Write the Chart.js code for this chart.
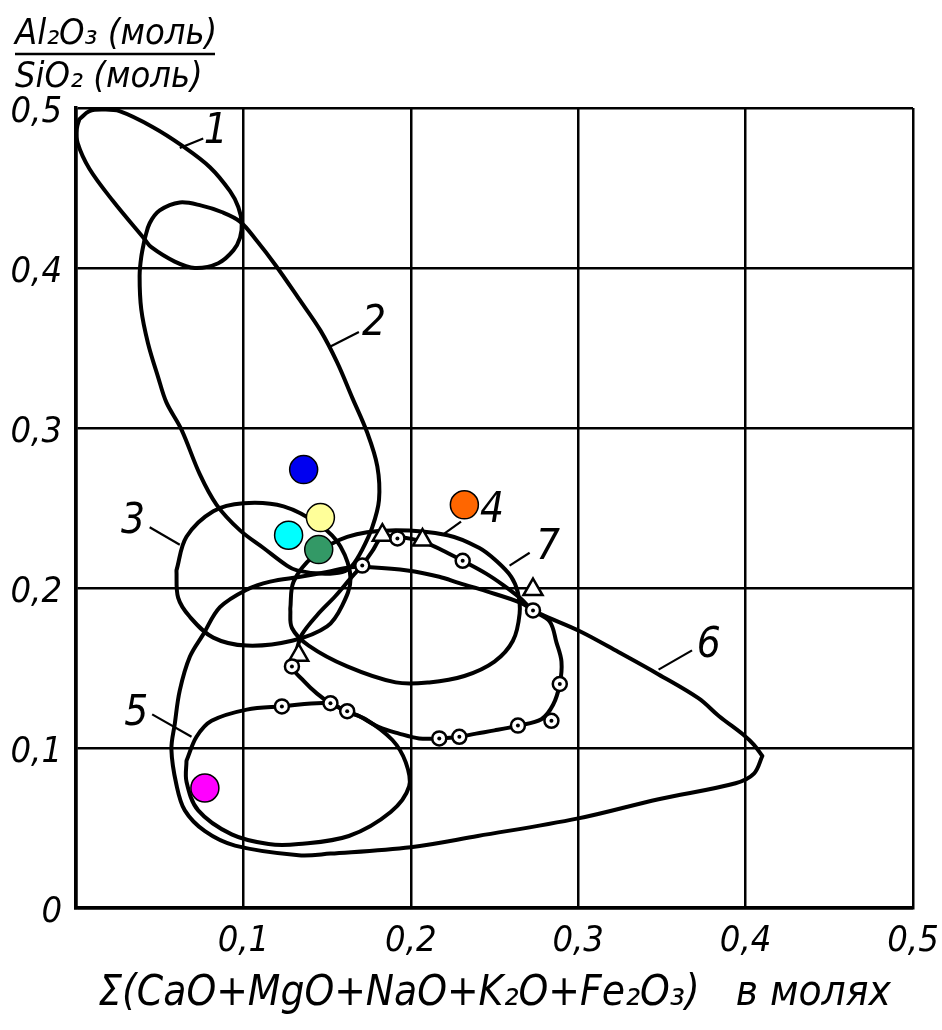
<!DOCTYPE html>
<html>
<head>
<meta charset="utf-8">
<script src="https://cdn.jsdelivr.net/npm/chart.js@4.4.1/dist/chart.umd.min.js"></script>
<style>
  html, body { margin: 0; padding: 0; background: #ffffff; }
  #wrap { position: relative; width: 942px; height: 1030px; }
</style>
</head>
<body>
<div id="wrap"><canvas id="c" width="942" height="1030"></canvas></div>
<script>
// ---------------- DATA ----------------
const xTicks = [0, 0.1, 0.2, 0.3, 0.4, 0.5];
const yTicks = [0, 0.1, 0.2, 0.3, 0.4, 0.5];

const xTitle = 'Σ(CaO+MgO+NaO+K₂O+Fe₂O₃)   в молях';
const yTitleTop = 'Al₂O₃ (моль)';
const yTitleBottom = 'SiO₂ (моль)';

// closed field contours [x, y]
const curve1 = [[0.002,0.493],[0.008,0.498],[0.016,0.499],[0.026,0.498],[0.046,0.488],[0.064,0.476],[0.080,0.463],[0.092,0.448],[0.097,0.438],[0.099,0.428],[0.098,0.419],[0.094,0.411],[0.085,0.403],[0.071,0.400],[0.059,0.404],[0.045,0.413],[0.041,0.418],[0.022,0.442],[0.008,0.462],[0.001,0.478],[0.0005,0.487],[0.002,0.493]];
const curve2 = [[0.041,0.418],[0.044,0.428],[0.050,0.436],[0.062,0.441],[0.075,0.439],[0.087,0.435],[0.098,0.429],[0.108,0.417],[0.119,0.402],[0.133,0.381],[0.146,0.361],[0.156,0.341],[0.165,0.319],[0.174,0.297],[0.180,0.276],[0.181,0.255],[0.177,0.238],[0.171,0.224],[0.165,0.214],[0.159,0.210],[0.146,0.209],[0.132,0.211],[0.126,0.214],[0.112,0.225],[0.098,0.236],[0.084,0.252],[0.074,0.271],[0.063,0.299],[0.054,0.316],[0.049,0.332],[0.043,0.353],[0.039,0.374],[0.038,0.395],[0.039,0.407],[0.041,0.418]];
const curve3 = [[0.060,0.211],[0.066,0.232],[0.082,0.248],[0.100,0.253],[0.124,0.251],[0.146,0.239],[0.158,0.226],[0.164,0.206],[0.159,0.189],[0.150,0.176],[0.129,0.167],[0.102,0.164],[0.082,0.169],[0.068,0.182],[0.061,0.194],[0.060,0.211]];
const curve4 = [[0.128,0.187],[0.130,0.204],[0.142,0.220],[0.162,0.232],[0.188,0.236],[0.222,0.233],[0.241,0.225],[0.251,0.217],[0.260,0.207],[0.264,0.197],[0.265,0.184],[0.261,0.167],[0.250,0.154],[0.232,0.145],[0.211,0.141],[0.191,0.141],[0.162,0.151],[0.139,0.164],[0.129,0.175],[0.128,0.187]];
const curve5 = [[0.066,0.092],[0.066,0.079],[0.073,0.061],[0.093,0.046],[0.115,0.040],[0.133,0.040],[0.163,0.045],[0.188,0.060],[0.199,0.076],[0.197,0.091],[0.189,0.105],[0.173,0.118],[0.161,0.123],[0.151,0.128],[0.123,0.126],[0.102,0.124],[0.081,0.117],[0.072,0.107],[0.066,0.092]];
const curve6 = [[0.410,0.095],[0.405,0.102],[0.399,0.108],[0.384,0.120],[0.372,0.131],[0.348,0.146],[0.324,0.160],[0.301,0.173],[0.277,0.184],[0.265,0.191],[0.245,0.198],[0.229,0.203],[0.217,0.207],[0.198,0.211],[0.176,0.213],[0.164,0.213],[0.150,0.210],[0.134,0.207],[0.116,0.204],[0.102,0.199],[0.086,0.188],[0.076,0.171],[0.068,0.157],[0.062,0.136],[0.059,0.115],[0.057,0.099],[0.060,0.077],[0.065,0.061],[0.077,0.048],[0.095,0.039],[0.133,0.033],[0.152,0.034],[0.200,0.038],[0.240,0.045],[0.300,0.056],[0.348,0.068],[0.394,0.078],[0.405,0.084],[0.410,0.095]];
const curve7 = [[0.171,0.214],[0.177,0.223],[0.183,0.232],[0.192,0.232],[0.207,0.229],[0.220,0.223],[0.231,0.217],[0.245,0.209],[0.255,0.202],[0.265,0.194],[0.273,0.186],[0.283,0.179],[0.287,0.166],[0.290,0.154],[0.289,0.140],[0.285,0.127],[0.278,0.118],[0.264,0.114],[0.250,0.111],[0.239,0.109],[0.229,0.107],[0.217,0.106],[0.205,0.106],[0.193,0.109],[0.181,0.113],[0.169,0.120],[0.162,0.123],[0.152,0.128],[0.144,0.134],[0.136,0.142],[0.129,0.151],[0.132,0.162],[0.135,0.171],[0.144,0.183],[0.155,0.195],[0.164,0.206],[0.171,0.214]];

// analysed points (circle with dot) and triangles
const ringPoints = [[0.171,0.214],[0.192,0.231],[0.231,0.217],[0.273,0.186],[0.289,0.140],[0.284,0.117],[0.264,0.114],[0.229,0.107],[0.217,0.106],[0.162,0.123],[0.152,0.128],[0.123,0.126],[0.129,0.151]];
const trianglePoints = [[0.183,0.233],[0.207,0.230],[0.273,0.199],[0.133,0.158]];

// coloured sample dots
const samplePoints = [[0.136,0.274],[0.146,0.244],[0.127,0.233],[0.145,0.224],[0.232,0.252],[0.077,0.075]];
const sampleColors = ['#0000f0','#ffff99','#00ffff','#339966','#ff6600','#ff00ff'];

// curve number labels and their leader lines
const curveLabelText = ['1','2','3','4','5','6','7'];
const curveLabelPos = [[0.0835,0.485],[0.178,0.365],[0.034,0.241],[0.2485,0.248],[0.036,0.121],[0.378,0.164],[0.282,0.225]];
const leaderLines = [
  [[0.076,0.481],[0.062,0.475]],
  [[0.169,0.360],[0.152,0.351]],
  [[0.044,0.238],[0.062,0.227]],
  [[0.230,0.2415],[0.220,0.234]],
  [[0.0455,0.121],[0.069,0.107]],
  [[0.368,0.161],[0.348,0.149]],
  [[0.271,0.222],[0.259,0.214]]
];

// ---------------- CHART ----------------
const fontFam = "'Liberation Sans Narrow','DejaVu Sans Condensed','Liberation Sans',Arial,sans-serif";
const fmt = v => Math.abs(v) < 1e-9 ? '0' : v.toFixed(1).replace('.', ',');
const pts = a => a.map(p => ({x: p[0], y: p[1]}));

const datasets = [];
datasets.push({ data: pts(samplePoints), showLine: false, pointRadius: 14, pointBackgroundColor: sampleColors,
  pointBorderColor: '#000', pointBorderWidth: 1.5, clip: false });
datasets.push({ data: pts(ringPoints), showLine: false, pointRadius: 2, pointBackgroundColor: '#000',
  pointBorderColor: '#000', pointBorderWidth: 0, clip: false });
datasets.push({ data: pts(ringPoints), showLine: false, pointRadius: 7, pointBackgroundColor: '#fff',
  pointBorderColor: '#000', pointBorderWidth: 2.5, clip: false });
datasets.push({ data: pts(trianglePoints), showLine: false, pointStyle: 'triangle', pointRadius: 11,
  pointBackgroundColor: '#fff', pointBorderColor: '#000', pointBorderWidth: 2.5, clip: false });
leaderLines.forEach(l => datasets.push({ data: pts(l), showLine: true, borderColor: '#000', borderWidth: 2.2,
  pointRadius: 0, tension: 0, clip: false }));
[curve1, curve2, curve3, curve4, curve5, curve6, curve7].forEach(c => datasets.push({
  data: pts(c), showLine: true, borderColor: '#000', borderWidth: 4, pointRadius: 0, tension: 0.35,
  borderJoinStyle: 'round', borderCapStyle: 'round', clip: false }));

const annot = {
  id: 'annot',
  afterDatasetsDraw(chart) {
    const {ctx, scales: {x, y}} = chart;
    ctx.save();
    ctx.fillStyle = '#000';
    ctx.font = 'italic 42px ' + fontFam;
    ctx.textAlign = 'center';
    ctx.textBaseline = 'middle';
    curveLabelText.forEach((t, i) => {
      ctx.fillText(t, x.getPixelForValue(curveLabelPos[i][0]), y.getPixelForValue(curveLabelPos[i][1]));
    });
    // y-axis title as a fraction at the top left
    ctx.textAlign = 'left';
    ctx.textBaseline = 'alphabetic';
    ctx.font = 'italic 36px ' + fontFam;
    ctx.fillText(yTitleTop, 15, 44);
    ctx.fillText(yTitleBottom, 15, 87);
    ctx.strokeStyle = '#000';
    ctx.lineWidth = 2.5;
    ctx.beginPath();
    ctx.moveTo(15, 54);
    ctx.lineTo(215, 54);
    ctx.stroke();
    ctx.restore();
  }
};

new Chart(document.getElementById('c'), {
  type: 'scatter',
  data: { datasets },
  plugins: [annot],
  options: {
    responsive: false,
    animation: false,
    devicePixelRatio: 1,
    events: [],
    layout: { padding: { left: 0, right: 29, top: 108, bottom: 0 } },
    plugins: { legend: { display: false }, tooltip: { enabled: false }, title: { display: false } },
    scales: {
      x: {
        type: 'linear', min: 0, max: 0.5,
        afterBuildTicks: s => { s.ticks = xTicks.map(v => ({value: v})); },
        afterFit: s => { s.height = 122; s.paddingLeft = 0; s.paddingRight = 0; },
        grid: { color: '#000', lineWidth: 2.5, drawTicks: false },
        border: { color: '#000', width: 3.5 },
        ticks: { color: '#000', padding: 12, maxRotation: 0, autoSkip: false,
          font: { family: fontFam, size: 36, style: 'italic' },
          callback: v => Math.abs(v) < 1e-9 ? '' : fmt(v) },
        title: { display: true, text: xTitle, color: '#000', padding: { top: 0, bottom: 11 },
          font: { family: fontFam, size: 42, style: 'italic' } }
      },
      y: {
        type: 'linear', min: 0, max: 0.5,
        afterBuildTicks: s => { s.ticks = yTicks.map(v => ({value: v})); },
        afterFit: s => { s.width = 76; s.paddingTop = 0; s.paddingBottom = 0; },
        grid: { color: '#000', lineWidth: 2.5, drawTicks: false },
        border: { color: '#000', width: 3.5 },
        ticks: { color: '#000', padding: 14, labelOffset: 5, autoSkip: false,
          font: { family: fontFam, size: 36, style: 'italic' },
          callback: v => fmt(v) }
      }
    }
  }
});
</script>
</body>
</html>
